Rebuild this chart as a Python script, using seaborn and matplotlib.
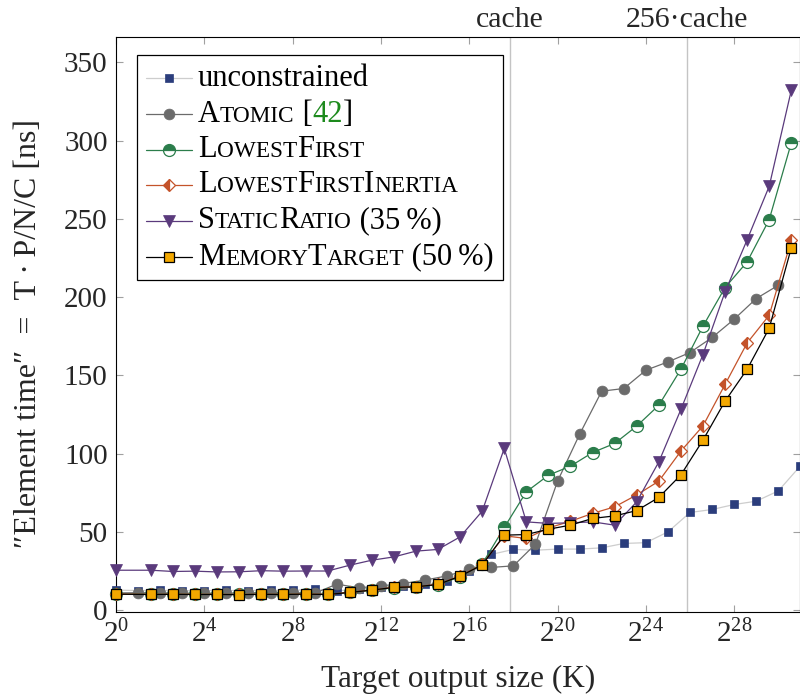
import matplotlib
matplotlib.use("Agg")
import matplotlib.pyplot as plt
import seaborn as sns
from matplotlib.lines import Line2D
from matplotlib.patches import Rectangle
from matplotlib.offsetbox import TextArea, HPacker, AnchoredOffsetbox

# Target output sizes (K): powers of two, and the 3*2^k grid used by the newer strategies
sizes_pow2 = [1, 2, 4, 8, 16, 32, 64, 128, 256, 512, 1024, 2048, 4096, 8192,
              16384, 32768, 65536, 131072, 262144, 524288, 1048576, 2097152,
              4194304, 8388608, 16777216, 33554432, 67108864, 134217728,
              268435456, 536870912, 1073741824, 2147483648]
sizes_3x = [1, 3, 6, 12, 24, 48, 96, 192, 384, 768, 1536, 3072, 6144, 12288,
            24576, 49152, 98304, 196608, 393216, 786432, 1572864, 3145728,
            6291456, 12582912, 25165824, 50331648, 100663296, 201326592,
            402653184, 805306368, 1610612736]

# Element time [ns]
unconstrained = [12.8, 12.5, 12.6, 12.4, 12.5, 12.6, 12.5, 12.6, 12.7, 13.2,
                 12.3, 13.5, 14.5, 15.5, 16.6, 18.3, 25.0, 35.6, 38.8, 38.3,
                 39.0, 39.0, 39.8, 42.6, 43.1, 50.0, 62.4, 64.3, 67.5, 69.6,
                 76.2, 92.2]
atomic = [11.0, 11.1, 11.0, 10.8, 10.8, 10.8, 11.1, 11.1, 11.1, 10.8, 16.6,
          14.3, 15.5, 17.0, 19.2, 21.9, 26.0, 27.3, 28.3, 42.2, 82.4, 112.4,
          139.9, 141.6, 153.3, 158.6, 164.6, 174.2, 185.9, 199.1, 207.6]
lowest_first = [10.3, 10.2, 10.2, 10.1, 10.1, 10.0, 10.2, 10.1, 10.3, 10.1,
                11.3, 12.7, 14.4, 14.8, 16.3, 21.3, 29.5, 52.8, 75.6, 86.2,
                92.0, 100.7, 106.5, 117.6, 130.9, 153.9, 181.4, 206.1, 222.5,
                249.5, 298.5]
lowest_first_inertia = [10.3, 10.1, 10.2, 10.1, 10.1, 10.0, 10.2, 10.1, 10.3,
                        10.1, 11.4, 12.9, 14.6, 15.0, 16.5, 21.8, 29.2, 47.5,
                        45.8, 52.5, 56.8, 61.8, 66.0, 73.6, 82.4, 101.6, 117.7,
                        144.2, 170.7, 188.4, 236.3]
static_ratio = [25.5, 25.5, 24.7, 24.9, 24.4, 24.5, 25.2, 24.9, 25.0, 25.0,
                28.7, 31.9, 34.0, 37.7, 38.8, 46.8, 63.2, 103.3, 56.4, 55.4,
                55.8, 56.4, 54.3, 69.2, 94.7, 128.2, 163.3, 203.3, 236.6,
                270.8, 332.1]
memory_target = [10.2, 10.0, 10.1, 10.0, 10.0, 9.9, 10.1, 10.0, 10.2, 10.0,
                 11.3, 12.8, 14.5, 14.9, 16.4, 21.7, 28.9, 47.9, 48.3, 51.7,
                 54.3, 58.6, 60.2, 63.6, 72.0, 86.4, 108.6, 133.5, 153.9,
                 180.1, 231.4]

cache_size = 2 ** 17.84
x_tick_exponents = [0, 4, 8, 12, 16, 20, 24, 28]
y_ticks = [0, 50, 100, 150, 200, 250, 300, 350]

sns.set_style("ticks")
SERIF = ["Liberation Serif", "DejaVu Serif"]
plt.rcParams["font.family"] = SERIF
plt.rcParams["mathtext.fontset"] = "custom"
plt.rcParams["mathtext.rm"] = "Liberation Serif"
plt.rcParams["mathtext.it"] = "Liberation Serif:italic"

FS = 21
LEG_FS = 22
W, H = 800, 700

fig = plt.figure(figsize=(W / 100, H / 100), dpi=100)
ax = fig.add_axes([116 / W, 88.3 / H, 684 / W, 574.4 / H])

NAVY = "#2b3d7c"
GRAY = "#6b6b6b"
GREEN = "#2b7d4b"
RUST = "#c4532a"
PURPLE = "#5a3a7c"
AMBER = "#f3a800"

styles = [
    dict(x=sizes_pow2, y=unconstrained, color="#cdcdcd", marker="s",
         markersize=5.2, markerfacecolor=NAVY, markeredgecolor=NAVY,
         markeredgewidth=0.5),
    dict(x=sizes_pow2[:len(atomic)], y=atomic, color=GRAY, marker="o",
         markersize=7.8, markerfacecolor=GRAY, markeredgecolor=GRAY,
         markeredgewidth=0.5),
    dict(x=sizes_3x, y=lowest_first, color=GREEN, marker="o", markersize=8.6,
         markerfacecolor=GREEN, markeredgecolor=GREEN, markeredgewidth=0.9,
         fillstyle="top", markerfacecoloralt="white"),
    dict(x=sizes_3x, y=lowest_first_inertia, color=RUST, marker="D",
         markersize=6.2, markerfacecolor=RUST, markeredgecolor=RUST,
         markeredgewidth=0.9, fillstyle="left", markerfacecoloralt="white"),
    dict(x=sizes_3x, y=static_ratio, color=PURPLE, marker="v", markersize=8.4,
         markerfacecolor=PURPLE, markeredgecolor=PURPLE, markeredgewidth=0.5),
    dict(x=sizes_3x, y=memory_target, color="black", marker="s",
         markersize=7.6, markerfacecolor=AMBER, markeredgecolor="black",
         markeredgewidth=0.9),
]

for z, st in enumerate(styles):
    st = dict(st)
    xs, ys = st.pop("x"), st.pop("y")
    sns.lineplot(x=xs, y=ys, ax=ax, sort=False, estimator=None,
                 linewidth=0.9, clip_on=False, zorder=3 + z, **st)

ax.set_xscale("log", base=2)
ax.set_xlim(1, 2 ** 30.98)
ax.set_ylim(-1, 366)

for xc in (cache_size, 256 * cache_size):
    ax.axvline(xc, color="#c4c4c4", linewidth=1.0, zorder=1)
ax.text(cache_size, 1.0 + 10 / 574.4, "cache", transform=ax.get_xaxis_transform(),
        ha="center", va="baseline", fontsize=FS + 0.5)
ax.text(256 * cache_size, 1.0 + 10 / 574.4, "256\u00b7cache",
        transform=ax.get_xaxis_transform(), ha="center", va="baseline",
        fontsize=FS + 0.5)

ax.set_xticks([2 ** e for e in x_tick_exponents])
ax.set_xticklabels([f"$2^{{{e}}}$" for e in x_tick_exponents])
ax.xaxis.set_minor_locator(matplotlib.ticker.NullLocator())
ax.set_yticks(y_ticks)
ax.set_yticklabels([str(v) for v in y_ticks])
ax.tick_params(direction="in", length=5, width=0.8, color="#a0a0a0",
               top=True, right=True, labelsize=FS, pad=6)
for sp in ax.spines.values():
    sp.set_visible(True)
    sp.set_color("black")
    sp.set_linewidth(0.8)

ax.set_xlabel("Target output size (K)", fontsize=22.5, labelpad=12)
ax.set_ylabel("\u2033Element time\u2033\u2002=\u2002T\u2009\u00b7\u2009P/N/C [ns]",
              fontsize=23)
ax.yaxis.set_label_coords(-0.106, 0.485)

# Legend drawn by hand so the strategy names can be set in small capitals
SC = 0.76
legend_rows = [
    [("unconstrained", "n")],
    [("A", "n"), ("TOMIC", "s"), (" [", "n"), ("42", "g"), ("]", "n")],
    [("L", "n"), ("OWEST", "s"), ("F", "n"), ("IRST", "s")],
    [("L", "n"), ("OWEST", "s"), ("F", "n"), ("IRST", "s"), ("I", "n"),
     ("NERTIA", "s")],
    [("S", "n"), ("TATIC", "s"), ("R", "n"), ("ATIO", "s"),
     (" (35\u2009%)", "n")],
    [("M", "n"), ("EMORY", "s"), ("T", "n"), ("ARGET", "s"),
     (" (50\u2009%)", "n")],
]

box_left, box_top, box_w, box_h = 137, 55, 366, 225
frame = Rectangle((box_left / W, 1 - (box_top + box_h) / H), box_w / W,
                  box_h / H, transform=fig.transFigure, facecolor="white",
                  edgecolor="black", linewidth=0.9, zorder=20)
fig.add_artist(frame)

row_y = [78, 114, 149.5, 185, 221, 257]
for st, pieces, yp in zip(styles, legend_rows, row_y):
    yf = 1 - yp / H
    fig.add_artist(Line2D([146 / W, 192 / W], [yf, yf], transform=fig.transFigure,
                          color=st["color"], linewidth=0.9, zorder=21))
    mk = {k: v for k, v in st.items() if k.startswith("marker") or k == "fillstyle"}
    fig.add_artist(Line2D([169 / W], [yf], transform=fig.transFigure,
                          linestyle="none", zorder=22, **mk))
    areas = []
    for text, kind in pieces:
        props = dict(fontsize=LEG_FS * (SC if kind == "s" else 1.0), family=SERIF,
                     color="#1d8a1d" if kind == "g" else "black")
        areas.append(TextArea(text, textprops=props))
    pack = HPacker(children=areas, align="baseline", pad=0, sep=0)
    anch = AnchoredOffsetbox(loc="center left", child=pack, pad=0, borderpad=0,
                             frameon=False, bbox_to_anchor=(198 / W, yf),
                             bbox_transform=fig.transFigure)
    anch.set_zorder(23)
    fig.add_artist(anch)

fig.savefig("out.png", dpi=100)
